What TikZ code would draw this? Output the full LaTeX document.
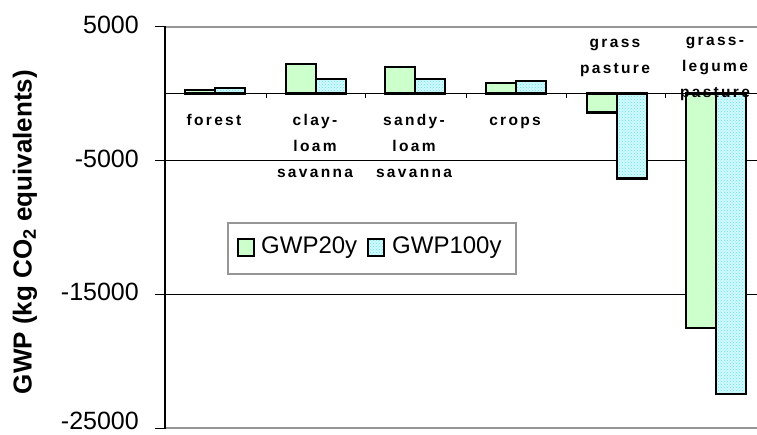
\documentclass[tikz,border=0pt]{standalone}
\usepackage{fontspec}
\setmainfont{Liberation Sans}
\newfontfamily\catfont[LetterSpace=15]{Liberation Sans}
\usetikzlibrary{patterns}
\definecolor{gfill}{RGB}{204,255,204}
\definecolor{bfill}{RGB}{210,250,252}
\definecolor{bdot}{RGB}{100,228,240}
\definecolor{framegray}{RGB}{150,150,150}

\begin{document}
\begin{tikzpicture}[x=1pt,y=1pt,
  barline/.style={draw=black,line width=2.4pt},
  g20bar/.style={fill=gfill,barline},
  g100bar/.style={fill=bfill,postaction={pattern=crosshatch dots,pattern color=bdot},postaction={barline}},
  ticklab/.style={anchor=base east,inner sep=0,font=\fontsize{25}{30}\selectfont},
  catlab/.style={anchor=base,inner sep=0,font=\catfont\bfseries\fontsize{15.5}{19}\selectfont},
  gridline/.style={line width=0.9pt},
  framerule/.style={draw=framegray,line width=1.8pt},
  legtext/.style={anchor=base west,inner sep=0,font=\fontsize{24}{28}\selectfont},
]
\useasboundingbox (0,0) rectangle (757,-434);

% value axis: y given in thousands of kg CO2 equivalents
\begin{scope}[shift={(0,-93.6)},y=13.387pt]
  % horizontal gridlines and plot frame
  \draw[gridline] (165,-5) -- (757,-5);
  \draw[gridline] (165,-15) -- (757,-15);
  \draw[framerule] (165,5) -- (757,5);
  \draw[framerule] (165,-25) -- (757,-25);
  % left axis with ticks
  \draw[line width=1.3pt] (165,5.05) -- (165,-25.05);
  \foreach \v in {5,-5,-15,-25} \draw[line width=0.9pt] (155,\v) -- (165,\v);
  % tick labels
  \node[ticklab] (t5)   at (139,5)   [yshift=-6.5pt] {5000};
  \node[ticklab] (tm5)  at (139,-5)  [yshift=-6.5pt] {-5000};
  \node[ticklab] (tm15) at (139,-15) [yshift=-6.5pt] {-15000};
  \node[ticklab] (tm25) at (139,-25) [yshift=-1.2pt] {-25000};

  % bars: GWP20y left, GWP100y right of each category centre
  \draw[g20bar]  (185,0) rectangle (215,0.25);
  \draw[g100bar] (215,0) rectangle (245,0.42);
  \draw[g20bar]  (286,0) rectangle (316,2.19);
  \draw[g100bar] (316,0) rectangle (346,1.10);
  \draw[g20bar]  (385,0) rectangle (415,1.99);
  \draw[g100bar] (415,0) rectangle (445,1.09);
  \draw[g20bar]  (486,0) rectangle (516,0.77);
  \draw[g100bar] (516,0) rectangle (546,0.94);
  \draw[g20bar]  (587,0) rectangle (617,-1.40);
  \draw[g100bar] (617,0) rectangle (647,-6.33);
  \draw[g20bar]  (686,0) rectangle (716,-17.53);
  \draw[g100bar] (716,0) rectangle (746,-22.46);

  % category axis at zero
  \draw[line width=1.2pt] (165,0) -- (757,0);
  \foreach \x in {266,365,466,566,665} \draw[line width=0.9pt] (\x,0) -- (\x,-0.3);
\end{scope}

% category labels
\node[catlab] (forest) at (214,-125) {forest};
\node[catlab] (clayA) at (315,-125) {clay-};
\node[catlab] (clayB) at (315,-151) {loam};
\node[catlab] (clayC) at (315,-177) {savanna};
\node[catlab] (sandyA) at (414,-125) {sandy-};
\node[catlab] (sandyB) at (414,-151) {loam};
\node[catlab] (sandyC) at (414,-177) {savanna};
\node[catlab] (crops) at (515,-125) {crops};
\node[catlab] (grassA) at (615,-47) {grass};
\node[catlab] (grassB) at (615,-73) {pasture};
\node[catlab] (legA) at (715,-45) {grass-};
\node[catlab] (legB) at (715,-71) {legume};
\node[catlab] (legC) at (715,-97) {pasture};

% axis title
\node[rotate=90,inner sep=0,font=\bfseries\fontsize{26}{30}\selectfont] (ytitle) at (25,-232)
  {GWP (kg CO\textsubscript{2} equivalents)};

% legend
\draw[draw=framegray,line width=1.2pt,fill=white] (228,-223) rectangle (516,-274);
\draw[fill=gfill,line width=1.5pt] (238,-239) rectangle (254,-256);
\node[legtext] (leg20) at (261,-253) {GWP20y};
\draw[fill=bfill,line width=1.5pt,postaction={pattern=crosshatch dots,pattern color=bdot}] (368,-239) rectangle (384,-256);
\draw[line width=1.5pt] (368,-239) rectangle (384,-256);
\node[legtext] (leg100) at (392,-253) {GWP100y};
\end{tikzpicture}
\end{document}
